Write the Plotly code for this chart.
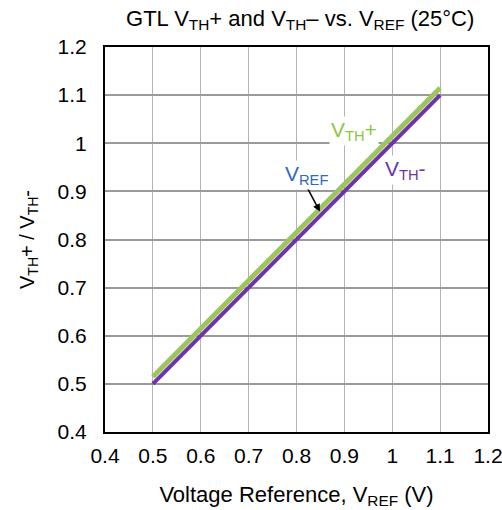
import plotly.graph_objects as go

vref = [0.5, 0.6, 0.7, 0.8, 0.9, 1.0, 1.1]
vth_plus = [0.515, 0.615, 0.715, 0.815, 0.915, 1.015, 1.115]
vth_minus = [0.5, 0.6, 0.7, 0.8, 0.9, 1.0, 1.1]
tick_vals = [0.4, 0.5, 0.6, 0.7, 0.8, 0.9, 1.0, 1.1, 1.2]
tick_text = ["0.4", "0.5", "0.6", "0.7", "0.8", "0.9", "1", "1.1", "1.2"]

FONT = "Liberation Sans, Arial, sans-serif"

fig = go.Figure()
fig.add_trace(go.Scatter(x=vref, y=vth_plus, mode="lines",
                         line=dict(color="#9cc65c", width=5), showlegend=False))
fig.add_trace(go.Scatter(x=vref, y=vth_minus, mode="lines",
                         line=dict(color="#6f33a8", width=4), showlegend=False))

fig.add_annotation(x=0.92, y=1.025, text="V<sub>TH</sub>+", showarrow=False,
                   font=dict(color="#8cc63f", size=21, family=FONT), bgcolor="white")
fig.add_annotation(x=1.027, y=0.944, text="V<sub>TH</sub>-", showarrow=False,
                   font=dict(color="#6f33a8", size=21, family=FONT), bgcolor="white")
fig.add_annotation(x=0.849, y=0.858, ax=0.82, ay=0.912, axref="x", ayref="y",
                   text="", showarrow=True, arrowhead=2, arrowsize=1, arrowwidth=1.5,
                   arrowcolor="black")
fig.add_annotation(x=0.82, y=0.934, text="V<sub>REF</sub>", showarrow=False,
                   font=dict(color="#2e6bbd", size=21, family=FONT), bgcolor="white")

fig.update_layout(
    width=502, height=510,
    margin=dict(l=105, r=14, t=47, b=78, autoexpand=False),
    paper_bgcolor="white", plot_bgcolor="white",
    font=dict(family=FONT, color="black"),
    title=dict(text="GTL V<sub>TH</sub>+ and V<sub>TH</sub>– vs. V<sub>REF</sub> (25°C)",
               x=0.598, xanchor="center", yref="container", y=0.965, yanchor="middle",
               font=dict(size=22, family=FONT)),
)
fig.update_xaxes(range=[0.4, 1.2], tickvals=tick_vals, ticktext=tick_text,
                 showgrid=True, gridcolor="#b4b4b4", gridwidth=1,
                 showline=True, linecolor="black", linewidth=2, mirror=True,
                 tickfont=dict(size=21), ticks="", ticklabelstandoff=4,
                 ticklabeloverflow="allow",
                 zeroline=False, automargin=False,
                 title=dict(text="Voltage Reference, V<sub>REF</sub> (V)", font=dict(size=22), standoff=20))
fig.update_yaxes(range=[0.4, 1.2], tickvals=tick_vals, ticktext=tick_text,
                 showgrid=True, gridcolor="#9a9a9a", gridwidth=2,
                 showline=True, linecolor="black", linewidth=2, mirror=True,
                 tickfont=dict(size=21), ticks="", ticklabelstandoff=12,
                 ticklabeloverflow="allow",
                 zeroline=False, automargin=False,
                 title=dict(text="V<sub>TH</sub>+ / V<sub>TH</sub>-", font=dict(size=20), standoff=18))

fig.write_html("out.html", config={"displayModeBar": False},
               post_script="document.body.style.margin='0';document.body.style.overflow='hidden';")
